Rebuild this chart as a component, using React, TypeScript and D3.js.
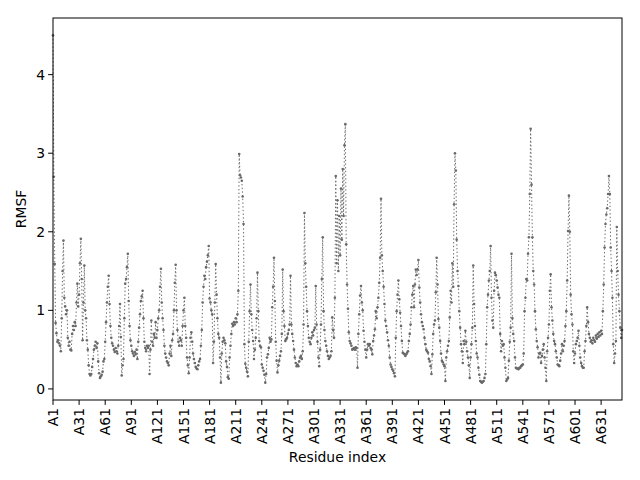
import React, { useEffect, useRef } from 'react';
import * as d3 from 'd3';

// RMSF per residue (chain A)
const rmsf: number[] = [
  // 0
  4.50, 2.70, 1.59, 0.84, 0.71, 0.60, 0.62, 0.58, 0.55, 0.48,
  0.90, 1.50, 1.89, 1.16, 1.05, 0.95, 1.00, 0.65, 0.55, 0.60,
  0.50, 0.49, 0.70, 0.80, 0.75, 0.85, 0.80, 1.10, 1.34, 1.05,
  1.20, 1.60, 1.91, 1.40, 0.62, 1.10, 1.57, 1.00, 0.90, 0.62,
  0.50, 0.30, 0.19, 0.17, 0.19, 0.28, 0.38, 0.50, 0.55, 0.60,
  // 50
  0.52, 0.58, 0.35, 0.20, 0.14, 0.16, 0.18, 0.22, 0.35, 0.38,
  0.60, 0.85, 1.10, 1.30, 1.44, 1.08, 0.80, 0.65, 0.58, 0.55,
  0.50, 0.47, 0.52, 0.48, 0.45, 0.55, 0.80, 1.08, 0.66, 0.17,
  0.30, 0.38, 0.90, 1.34, 1.40, 1.55, 1.72, 1.12, 0.80, 0.62,
  0.55, 0.48, 0.45, 0.42, 0.47, 0.44, 0.50, 0.38, 0.60, 0.78,
  // 100
  0.95, 1.12, 1.18, 1.25, 0.90, 0.60, 0.52, 0.48, 0.55, 0.52,
  0.55, 0.19, 0.50, 0.87, 0.60, 0.55, 0.70, 0.65, 0.85, 0.65,
  0.75, 0.90, 1.00, 1.30, 1.53, 1.10, 0.90, 0.75, 0.55, 0.45,
  0.40, 0.35, 0.33, 0.30, 0.45, 0.55, 0.42, 0.62, 0.70, 1.00,
  1.35, 1.58, 1.00, 0.75, 0.60, 0.55, 0.65, 0.62, 0.55, 0.80,
  // 150
  1.00, 1.16, 0.80, 0.65, 0.40, 0.30, 0.20, 0.40, 0.65, 0.72,
  0.60, 0.45, 0.38, 0.33, 0.28, 0.26, 0.25, 0.30, 0.35, 0.38,
  0.55, 0.75, 1.10, 1.30, 1.44, 1.40, 1.55, 1.62, 1.70, 1.82,
  1.15, 1.10, 1.00, 0.95, 0.33, 0.60, 1.10, 1.59, 1.20, 0.90,
  0.70, 0.65, 0.40, 0.08, 0.45, 0.60, 0.65, 0.62, 0.58, 0.35,
  // 200
  0.28, 0.15, 0.13, 0.40, 0.55, 0.70, 0.83, 0.80, 0.85, 0.82,
  0.90, 0.85, 0.95, 1.25, 2.99, 2.72, 2.69, 2.65, 2.45, 2.10,
  0.57, 0.32, 0.27, 0.22, 0.16, 0.60, 0.99, 1.33, 0.95, 0.75,
  0.61, 0.38, 0.50, 0.65, 0.90, 1.48, 0.99, 0.61, 0.55, 0.53,
  0.31, 0.27, 0.23, 0.18, 0.08, 0.19, 0.40, 0.44, 0.52, 0.65,
  // 250
  0.60, 0.63, 1.04, 1.30, 1.67, 1.12, 0.60, 0.36, 0.21, 0.30,
  0.36, 0.42, 0.48, 0.70, 1.52, 0.99, 0.80, 0.61, 0.63, 0.65,
  0.70, 0.75, 0.82, 1.44, 0.82, 0.70, 0.61, 0.50, 0.40, 0.33,
  0.29, 0.31, 0.29, 0.35, 0.40, 0.42, 0.38, 0.48, 0.82, 2.24,
  1.60, 1.30, 0.99, 0.80, 0.65, 0.60, 0.57, 0.65, 0.72, 0.68,
  // 300
  0.75, 0.78, 1.31, 0.82, 0.60, 0.40, 0.29, 0.50, 0.82, 1.40,
  1.93, 0.99, 0.75, 0.61, 0.55, 0.48, 0.42, 0.38, 0.40, 0.42,
  0.48, 0.91, 0.75, 0.65, 1.16, 2.71, 1.60, 2.40, 1.50, 2.20,
  1.70, 2.55, 1.90, 2.80, 2.20, 3.10, 3.37, 1.84, 1.33, 1.02,
  0.72, 0.61, 0.58, 0.55, 0.50, 0.51, 0.52, 0.50, 0.53, 0.52,
  // 350
  0.27, 0.70, 0.95, 1.19, 1.31, 1.10, 1.00, 0.74, 0.60, 0.50,
  0.40, 0.50, 0.57, 0.55, 0.57, 0.52, 0.50, 0.44, 0.61, 0.68,
  0.76, 0.99, 0.90, 1.04, 1.16, 1.35, 1.67, 2.42, 1.70, 1.50,
  1.30, 1.08, 0.87, 0.80, 0.72, 0.62, 0.55, 0.40, 0.31, 0.28,
  0.25, 0.23, 0.20, 0.16, 0.65, 0.99, 1.20, 1.38, 1.14, 0.97,
  // 400
  0.80, 0.61, 0.46, 0.45, 0.44, 0.42, 0.44, 0.46, 0.48, 0.61,
  0.70, 0.82, 1.04, 1.20, 1.31, 1.04, 1.33, 1.52, 1.45, 1.52,
  1.64, 1.29, 1.10, 0.95, 0.85, 0.80, 0.76, 0.65, 0.57, 0.50,
  0.48, 0.46, 0.38, 0.35, 0.29, 0.19, 0.44, 0.70, 0.82, 0.87,
  1.23, 1.67, 1.33, 0.89, 0.78, 0.61, 0.45, 0.36, 0.34, 0.31,
  // 450
  0.29, 0.10, 0.40, 0.48, 0.55, 0.61, 0.91, 1.25, 1.10, 1.60,
  1.30, 2.35, 3.00, 2.78, 1.90, 1.50, 1.31, 0.99, 0.78, 0.57,
  0.48, 0.33, 0.61, 0.57, 0.74, 0.60, 0.48, 0.40, 0.30, 0.14,
  0.40, 0.57, 0.78, 1.57, 1.08, 0.80, 0.61, 0.45, 0.40, 0.27,
  0.18, 0.10, 0.09, 0.08, 0.09, 0.10, 0.14, 0.19, 0.57, 1.04,
  // 500
  1.20, 1.38, 1.50, 1.82, 1.16, 0.87, 0.78, 1.25, 1.48, 1.45,
  1.38, 1.29, 1.20, 1.16, 0.70, 0.48, 0.61, 0.55, 0.57, 0.40,
  0.27, 0.10, 0.12, 0.14, 0.36, 0.60, 0.78, 1.72, 0.90, 0.70,
  0.61, 0.40, 0.27, 0.26, 0.26, 0.25, 0.27, 0.27, 0.29, 0.30,
  0.31, 0.45, 0.99, 1.16, 1.40, 1.38, 1.72, 1.93, 2.48, 3.31,
  // 550
  2.60, 1.93, 1.50, 1.33, 0.99, 0.76, 0.61, 0.53, 0.40, 0.45,
  0.46, 0.33, 0.42, 0.50, 0.57, 0.40, 0.27, 0.10, 0.48, 0.65,
  0.82, 1.25, 1.46, 1.04, 0.87, 0.70, 0.61, 0.57, 0.48, 0.40,
  0.31, 0.30, 0.29, 0.36, 0.45, 0.57, 0.48, 0.55, 0.61, 0.80,
  0.99, 1.38, 2.01, 2.46, 2.00, 1.20, 0.95, 0.82, 0.48, 0.33,
  // 600
  0.45, 0.57, 0.61, 0.65, 0.74, 0.55, 0.40, 0.33, 0.29, 0.27,
  0.27, 0.48, 0.61, 0.80, 1.04, 0.85, 0.70, 0.65, 0.60, 0.62,
  0.58, 0.65, 0.62, 0.60, 0.68, 0.64, 0.70, 0.66, 0.72, 0.68,
  0.74, 0.70, 0.99, 1.33, 1.80, 2.10, 2.22, 2.30, 2.48, 2.71,
  2.48, 1.80, 1.50, 1.16, 0.57, 0.33, 0.45, 0.61, 2.06, 1.50,
  // 650
  1.20, 0.99, 0.78, 0.65, 0.75,
];

const chain = 'A';
const tickStep = 30;
const yTicks = [0, 1, 2, 3, 4];

const W = 640;
const H = 480;
const margin = { top: 18, right: 18, bottom: 80, left: 53 };

export default function App() {
  const svgRef = useRef<SVGSVGElement>(null);

  useEffect(() => {
    if (!svgRef.current) return;
    const svg = d3.select(svgRef.current);
    svg.selectAll('*').remove();

    const font = '"DejaVu Sans", sans-serif';
    const x0 = margin.left, x1 = W - margin.right;
    const y0 = H - margin.bottom, y1 = margin.top;

    const n = rmsf.length;
    const [lo, hi] = d3.extent(rmsf) as [number, number];
    const pad = (hi - lo) * 0.05;

    const x = d3.scaleLinear().domain([0, n - 1]).range([x0, x1]);
    const y = d3.scaleLinear().domain([lo - pad, hi + pad]).range([y0, y1]);

    svg.append('rect').attr('width', W).attr('height', H).attr('fill', '#fff');

    const line = d3.line<number>()
      .x((_, i) => x(i))
      .y(d => y(d));

    svg.append('path')
      .datum(rmsf)
      .attr('fill', 'none')
      .attr('stroke', '#696969')
      .attr('stroke-width', 1)
      .attr('stroke-dasharray', '1.4,2.3')
      .attr('d', line);

    svg.append('g')
      .selectAll('circle')
      .data(rmsf)
      .enter()
      .append('circle')
      .attr('cx', (_, i) => x(i))
      .attr('cy', d => y(d))
      .attr('r', 1.3)
      .attr('fill', '#696969');

    // frame
    svg.append('rect')
      .attr('x', x0).attr('y', y1)
      .attr('width', x1 - x0).attr('height', y0 - y1)
      .attr('fill', 'none').attr('stroke', '#000').attr('stroke-width', 1);

    // y axis
    const gy = svg.append('g');
    yTicks.forEach(t => {
      gy.append('line')
        .attr('x1', x0 - 4.9).attr('x2', x0)
        .attr('y1', y(t)).attr('y2', y(t))
        .attr('stroke', '#000');
      gy.append('text')
        .attr('x', x0 - 8).attr('y', y(t))
        .attr('dy', '0.36em')
        .attr('text-anchor', 'end')
        .attr('font-family', font).attr('font-size', 13.9)
        .text(t);
    });

    // x axis
    const gx = svg.append('g');
    d3.range(0, n, tickStep).forEach(i => {
      gx.append('line')
        .attr('x1', x(i)).attr('x2', x(i))
        .attr('y1', y0).attr('y2', y0 + 4.9)
        .attr('stroke', '#000');
      gx.append('text')
        .attr('transform', `translate(${x(i)},${y0 + 8}) rotate(-90)`)
        .attr('dy', '0.36em')
        .attr('text-anchor', 'end')
        .attr('font-family', font).attr('font-size', 13.9)
        .text(`${chain}${i + 1}`);
    });

    svg.append('text')
      .attr('x', (x0 + x1) / 2).attr('y', 462)
      .attr('text-anchor', 'middle')
      .attr('font-family', font).attr('font-size', 13.9)
      .text('Residue index');

    svg.append('text')
      .attr('transform', `translate(26,${(y0 + y1) / 2}) rotate(-90)`)
      .attr('text-anchor', 'middle')
      .attr('font-family', font).attr('font-size', 13.9)
      .text('RMSF');
  }, []);

  return (
    <svg ref={svgRef} width={W} height={H}
      style={{ position: 'absolute', left: 0, top: 0 }} />
  );
}
